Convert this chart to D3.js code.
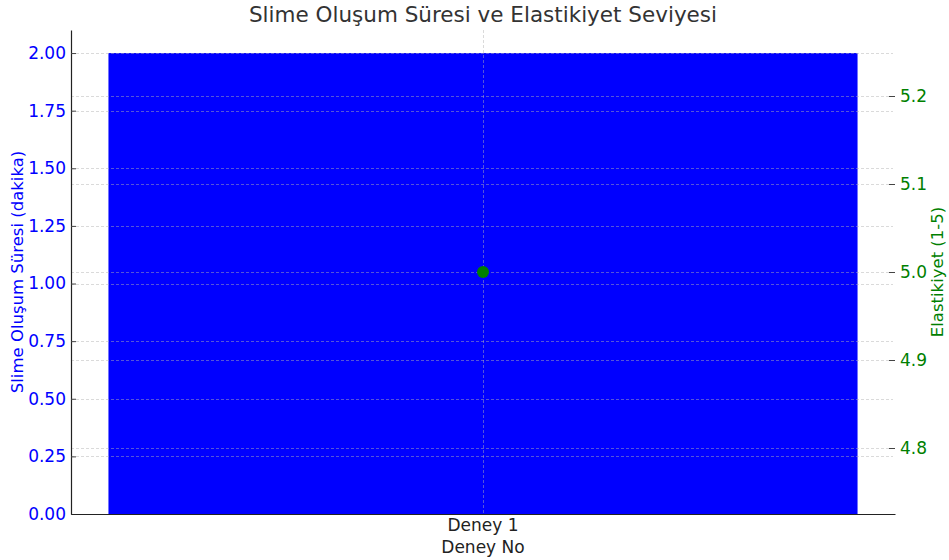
<!DOCTYPE html>
<html>
<head>
<meta charset="utf-8">
<script src="https://cdn.jsdelivr.net/npm/d3@7"></script>
<style>
  body { margin: 0; background: #fff; }
  text { font-family: "DejaVu Sans", sans-serif; }
</style>
</head>
<body>
<svg id="chart"></svg>
<script>
// Data
const experiments = ["Deney 1"];
const durations = [2.0];
const elasticity = [5.0];
const leftTicks = [0, 0.25, 0.5, 0.75, 1.0, 1.25, 1.5, 1.75, 2.0];
const rightTicks = [4.8, 4.9, 5.0, 5.1, 5.2];

const width = 949;
const height = 560;
const margin = { top: 30, right: 54, bottom: 46, left: 71 };
const innerW = width - margin.left - margin.right;
const innerH = height - margin.top - margin.bottom;

const svg = d3.select("#chart").attr("width", width).attr("height", height);
const g = svg.append("g").attr("transform", `translate(${margin.left},${margin.top})`);

// Scales (matplotlib-like margins: bar width 0.8 out of 0.88 total)
const x = d3.scaleBand().domain(experiments).range([0, innerW]).padding(0);
const barW = innerW * 0.8 / 0.88;
const xCenter = (d) => x(d) + x.bandwidth() / 2;

const yL = d3.scaleLinear().domain([0, 2.1]).range([innerH, 0]);
const yR = d3.scaleLinear().domain([4.725, 5.275]).range([innerH, 0]);

// Bars
g.selectAll("rect.bar")
  .data(experiments)
  .enter()
  .append("rect")
  .attr("class", "bar")
  .attr("x", (d) => xCenter(d) - barW / 2)
  .attr("width", barW)
  .attr("y", (d, i) => yL(durations[i]))
  .attr("height", (d, i) => innerH - yL(durations[i]))
  .attr("fill", "#0000ff");

// Grid lines (drawn above the bar)
const gridStyle = (sel) =>
  sel.attr("stroke", "#b0b0b0").attr("stroke-opacity", 0.6).attr("stroke-dasharray", "3,2").attr("stroke-width", 0.8);

g.append("g").selectAll("line").data(leftTicks).enter().append("line")
  .attr("x1", 0).attr("x2", innerW - 2)
  .attr("y1", (d) => Math.round(yL(d)) + 0.5).attr("y2", (d) => Math.round(yL(d)) + 0.5)
  .call(gridStyle);

g.append("g").selectAll("line").data(rightTicks).enter().append("line")
  .attr("x1", 0).attr("x2", innerW - 2)
  .attr("y1", (d) => Math.round(yR(d)) + 0.5).attr("y2", (d) => Math.round(yR(d)) + 0.5)
  .call(gridStyle);

g.append("g").selectAll("line").data(experiments).enter().append("line")
  .attr("x1", (d) => Math.round(xCenter(d)) + 0.5).attr("x2", (d) => Math.round(xCenter(d)) + 0.5)
  .attr("y1", 0).attr("y2", innerH)
  .call(gridStyle);

// Points
g.selectAll("circle.pt")
  .data(experiments)
  .enter()
  .append("circle")
  .attr("class", "pt")
  .attr("cx", (d) => xCenter(d))
  .attr("cy", (d, i) => yR(elasticity[i]))
  .attr("r", 6)
  .attr("fill", "green");

// Left axis
const leftAxis = g.append("g")
  .call(d3.axisLeft(yL).tickValues(leftTicks).tickFormat(d3.format(".2f")).tickSizeInner(-5).tickSizeOuter(0).tickPadding(5));
leftAxis.select(".domain").attr("stroke", "#222").attr("stroke-width", 1.2);
leftAxis.selectAll(".tick line").attr("stroke", "#444");
leftAxis.selectAll(".tick text").attr("fill", "#0000ff").attr("font-size", 17);

// Right axis
const rightAxis = g.append("g").attr("transform", `translate(${innerW},0)`)
  .call(d3.axisRight(yR).tickValues(rightTicks).tickFormat(d3.format(".1f")).tickSizeInner(-6).tickSizeOuter(0).tickPadding(5));
rightAxis.select(".domain").remove();
rightAxis.selectAll(".tick line").attr("stroke", "#444");
rightAxis.selectAll(".tick text").attr("fill", "green").attr("font-size", 17);

// Bottom axis
const bottomAxis = g.append("g").attr("transform", `translate(0,${innerH})`)
  .call(d3.axisBottom(x).tickSize(0).tickSizeOuter(0).tickPadding(5));
bottomAxis.select(".domain").attr("stroke", "#222").attr("stroke-width", 1.2);
bottomAxis.selectAll(".tick text").attr("fill", "#222").attr("font-size", 17);

// Titles
svg.append("text")
  .attr("x", margin.left + innerW / 2).attr("y", 22)
  .attr("text-anchor", "middle").attr("font-size", 21.5).attr("fill", "#333")
  .text("Slime Oluşum Süresi ve Elastikiyet Seviyesi");

svg.append("text")
  .attr("x", margin.left + innerW / 2).attr("y", 553)
  .attr("text-anchor", "middle").attr("font-size", 17).attr("fill", "#222")
  .text("Deney No");

svg.append("text")
  .attr("transform", `translate(23,${margin.top + innerH / 2}) rotate(-90)`)
  .attr("text-anchor", "middle").attr("font-size", 16.5).attr("fill", "#0000ff")
  .text("Slime Oluşum Süresi (dakika)");

svg.append("text")
  .attr("transform", `translate(943,${margin.top + innerH / 2}) rotate(-90)`)
  .attr("text-anchor", "middle").attr("font-size", 16.5).attr("fill", "green")
  .text("Elastikiyet (1-5)");
</script>
</body>
</html>
